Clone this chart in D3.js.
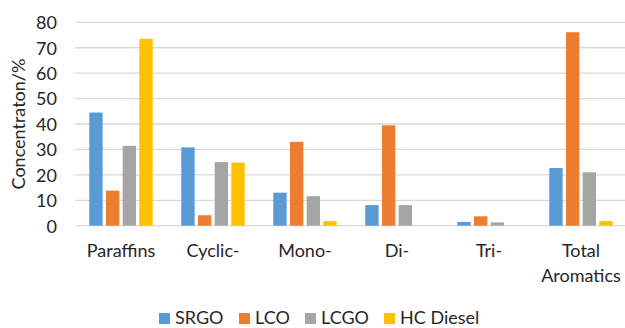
<!DOCTYPE html>
<html>
<head>
<meta charset="utf-8">
<script src="https://cdn.jsdelivr.net/npm/d3@7"></script>
<style>
  html, body { margin: 0; padding: 0; background: #fff; }
  svg { display: block; font-family: Lato, "Liberation Sans", sans-serif; }
</style>
</head>
<body>
<svg id="chart" width="625" height="328"></svg>
<script>
// Hydrocarbon group composition of four diesel streams
const categories = ["Paraffins", "Cyclic-", "Mono-", "Di-", "Tri-", "Total Aromatics"];
const seriesNames = ["SRGO", "LCO", "LCGO", "HC Diesel"];
const srgo     = [44.5, 30.8, 13.0, 8.1, 1.5, 22.7];
const lco      = [13.8, 4.1, 33.0, 39.5, 3.7, 76.1];
const lcgo     = [31.4, 25.0, 11.6, 8.1, 1.3, 21.0];
const hcDiesel = [73.5, 24.8, 1.8, 0, 0, 1.8];
const yTicks = [0, 10, 20, 30, 40, 50, 60, 70, 80];
const colors = ["#5B9BD5", "#ED7D31", "#A5A5A5", "#FFC000"];

const seriesValues = [srgo, lco, lcgo, hcDiesel];
const rows = categories.map((c, i) => ({
  category: c,
  values: seriesNames.map((s, j) => ({ series: s, value: seriesValues[j][i] }))
}));

const svg = d3.select("#chart");
const plotLeft = 75, plotRight = 627, plotTop = 22.3, plotBottom = 225.7;

const x0 = d3.scaleBand().domain(categories).range([plotLeft, plotRight]);
const groupWidth = 63.4;
const x1 = d3.scaleBand().domain(seriesNames).range([0, groupWidth]).paddingInner(0.2);
const y = d3.scaleLinear().domain([0, 80]).range([plotBottom, plotTop]);
const color = d3.scaleOrdinal().domain(seriesNames).range(colors);

// horizontal gridlines
svg.append("g")
  .selectAll("line")
  .data(yTicks)
  .join("line")
  .attr("x1", plotLeft).attr("x2", 625)
  .attr("y1", d => y(d)).attr("y2", d => y(d))
  .attr("stroke", "#D9D9D9")
  .attr("stroke-width", 1.3);

// y axis tick labels
const yAxis = d3.axisLeft(y).tickValues(yTicks).tickSize(0).tickPadding(0);
const yg = svg.append("g").attr("transform", `translate(${57},0)`).call(yAxis);
yg.select(".domain").remove();
yg.selectAll("text")
  .attr("font-family", "Lato, 'Liberation Sans', sans-serif")
  .attr("font-size", 18)
  .attr("fill", "#262626")
  .attr("dy", "0.35em");

// y axis title
svg.append("text")
  .attr("transform", `translate(${25},${124}) rotate(-90)`)
  .attr("text-anchor", "middle")
  .attr("font-size", 18)
  .attr("fill", "#262626")
  .text("Concentraton/%");

// grouped bars
const groups = svg.append("g")
  .selectAll("g")
  .data(rows)
  .join("g")
  .attr("transform", d => `translate(${x0(d.category) + (x0.bandwidth() - groupWidth) / 2},0)`);

groups.selectAll("rect")
  .data(d => d.values.filter(v => v.value > 0))
  .join("rect")
  .attr("x", d => x1(d.series))
  .attr("width", x1.bandwidth())
  .attr("y", d => y(d.value))
  .attr("height", d => y(0) - y(d.value))
  .attr("fill", d => color(d.series));

// category labels (multi-word labels wrap onto two lines)
const xAxis = svg.append("g");
categories.forEach(c => {
  const words = c.split(" ");
  const t = xAxis.append("text")
    .attr("text-anchor", "middle")
    .attr("font-size", 18)
    .attr("fill", "#262626");
  words.forEach((w, i) => {
    t.append("tspan")
      .attr("x", x0(c) + x0.bandwidth() / 2)
      .attr("y", 257 + i * 25)
      .text(w);
  });
});

// legend
const legendX = [159, 239, 305, 384];
const legend = svg.append("g")
  .selectAll("g")
  .data(seriesNames)
  .join("g")
  .attr("transform", (d, i) => `translate(${legendX[i]},313)`);
legend.append("rect")
  .attr("width", 11).attr("height", 11)
  .attr("fill", d => color(d));
legend.append("text")
  .attr("x", 16).attr("y", 11)
  .attr("font-size", 18)
  .attr("fill", "#262626")
  .text(d => d);
</script>
</body>
</html>
